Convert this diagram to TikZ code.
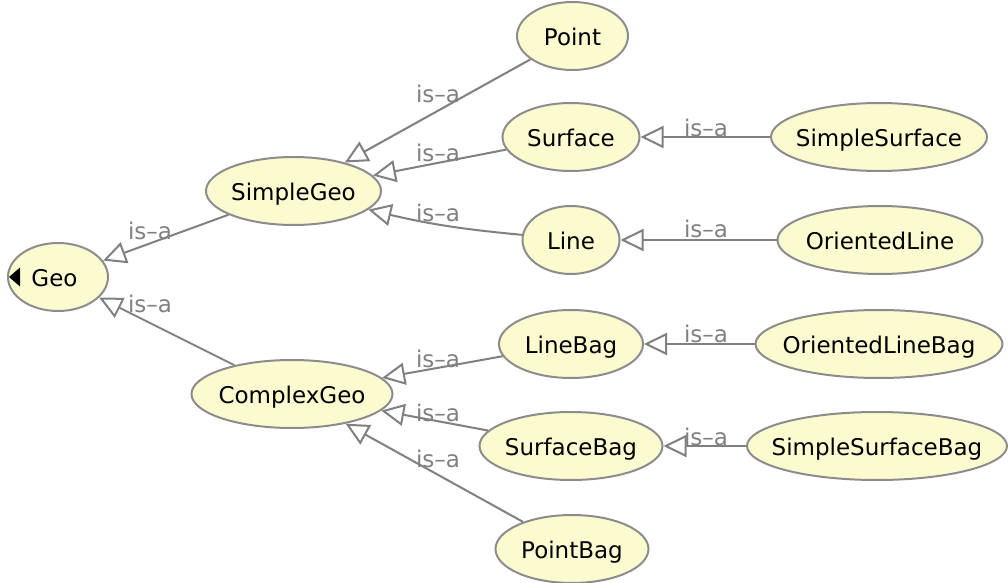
\documentclass[tikz,border=0pt]{standalone}
\usepackage{fontspec}
\setmainfont{DejaVu Sans}
\usetikzlibrary{arrows.meta,shapes.geometric}
\definecolor{classfill}{RGB}{252,251,208}
\definecolor{classline}{RGB}{140,140,140}
\definecolor{isagray}{RGB}{128,128,128}
\begin{document}
\begin{tikzpicture}
[x=0.5pt,y=-0.5pt,
 classdecorate/.style={shape=ellipse,draw=classline,line width=1pt,fill=classfill,
   inner sep=0pt,minimum height=34pt,text height=9.5pt,text depth=0pt,
   font=\fontsize{11.5}{13}\selectfont},%
 isadecorate/.style={-{Triangle[open,length=11.5pt,width=11pt]},draw=isagray,line width=1pt},%
 labeldecorate/.style={anchor=base,inner sep=0pt,text=isagray,font=\fontsize{11.5}{13}\selectfont}]
\useasboundingbox (0,0) rectangle (1008,583);
%% classes
\foreach \nodename/\x/\y/\w/\txt in {geo/58/277/100/{Geo\hspace*{3.5pt}},
  simplegeo/293.5/191/175/SimpleGeo, complexgeo/292/394/201/ComplexGeo,
  point/572.5/36/111/Point, surface/571/137/137/Surface, line/571/240/97/Line,
  linebag/571/344/144/LineBag, surfacebag/571/446/183/SurfaceBag, pointbag/572/549/153/PointBag,
  simplesurface/879/137/216/SimpleSurface, orientedline/880/240/205/OrientedLine,
  orientedlinebag/879/344/247/OrientedLineBag, simplesurfacebag/877/446/260/SimpleSurfaceBag} {
  \node (\nodename) at (\x,\y) [classdecorate,minimum width=\w*0.5pt] {\makebox[0pt]{\txt}};
}
\fill (geo.west) ++(2,0) -- ++(11,-9.5) -- ++(0,19) -- cycle;
%% is-a edges
\path
\foreach \startnode/\endnode in {simplegeo/geo, complexgeo/geo, point/simplegeo, surface/simplegeo,
  linebag/complexgeo, surfacebag/complexgeo, pointbag/complexgeo, simplesurface/surface,
  orientedline/line, orientedlinebag/linebag, simplesurfacebag/surfacebag} {
  (\startnode) edge[isadecorate] (\endnode)
};
\path (line) edge[isadecorate,bend left=4] (simplegeo);
%% labels
\foreach \labelname/\x/\y in {l-simplegeo/150/240, l-complexgeo/150/313, l-point/438/103,
  l-surface/438/162, l-line/438/221, l-linebag/438/367, l-surfacebag/438/421, l-pointbag/438/467,
  l-simplesurface/706/137, l-orientedline/706/238, l-orientedlinebag/706/343,
  l-simplesurfacebag/706/445} {
  \node (\labelname) at (\x,\y) [labeldecorate] {is--a};
}
\end{tikzpicture}
\end{document}
